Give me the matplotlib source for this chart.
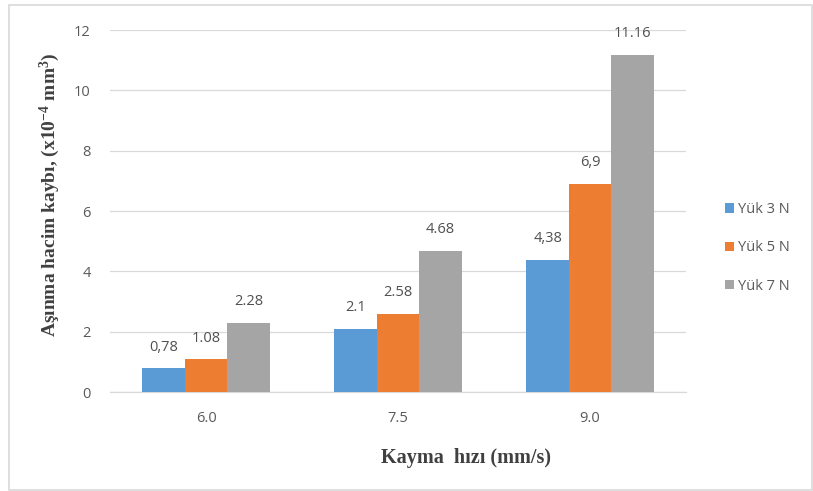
import numpy as np
import matplotlib
matplotlib.use("Agg")
import matplotlib.pyplot as plt
from matplotlib.patches import Rectangle

plt.rcParams['font.family'] = ['Open Sans', 'DejaVu Sans']
plt.rcParams['mathtext.fontset'] = 'custom'
plt.rcParams['mathtext.rm'] = 'Liberation Serif:bold'
plt.rcParams['mathtext.it'] = 'Liberation Serif:bold'

# data
speeds = ["6.0", "7.5", "9.0"]
series = ["Yük 3 N", "Yük 5 N", "Yük 7 N"]
yuk3 = [0.78, 2.1, 4.38]
yuk5 = [1.08, 2.58, 6.9]
yuk7 = [2.28, 4.68, 11.16]
labels3 = ["0,78", "2.1", "4,38"]
labels5 = ["1.08", "2.58", "6,9"]
labels7 = ["2.28", "4.68", "11.16"]
colors = ["#5B9BD5", "#ED7D31", "#A5A5A5"]
yticks = [0, 2, 4, 6, 8, 10, 12]

fig = plt.figure(figsize=(8.13, 4.91), dpi=100)
ax = fig.add_axes([0.1353, 0.2016, 0.7085, 0.7373])

x = np.arange(len(speeds))
w = 0.221
values = [yuk3, yuk5, yuk7]
texts = [labels3, labels5, labels7]
for i in range(3):
    bars = ax.bar(x + (i - 1) * w, values[i], w, color=colors[i], label=series[i], zorder=3)
    for b, t in zip(bars, texts[i]):
        ax.annotate(t, (b.get_x() + b.get_width() / 2, b.get_height()),
                    xytext=(0, 10), textcoords='offset points',
                    ha='center', va='bottom', fontsize=10.5, color='#505050')

ax.set_xlim(-0.5, 2.5)
ax.set_ylim(0, 12)
ax.set_yticks(yticks)
ax.set_xticks(x)
ax.set_xticklabels(speeds)
ax.tick_params(length=0, labelsize=10.5, colors='#595959', pad=14)
ax.grid(axis='y', color='#D9D9D9', linewidth=0.9, zorder=0)
for s in ['top', 'right', 'left']:
    ax.spines[s].set_visible(False)
ax.spines['bottom'].set_color('#D9D9D9')
ax.spines['bottom'].set_linewidth(0.9)

fig.text(50 / 813, 1 - 195 / 491, "Aşınma hacim kaybı, (x10$^{-4}$ mm$^{3}$)",
         rotation=90, ha='center', va='center', family='Liberation Serif',
         fontweight='bold', fontsize=14, color='#404040')
fig.text(466 / 813, 1 - 458 / 491, "Kayma  hızı (mm/s)",
         ha='center', va='center', family='Liberation Serif',
         fontweight='bold', fontsize=14.5, color='#404040')

leg = ax.legend(loc='center left', bbox_to_anchor=(718 / 813, 1 - 248 / 491),
                bbox_transform=fig.transFigure, frameon=False, fontsize=10.5,
                handlelength=0.6, handleheight=0.6, handletextpad=0.3,
                labelspacing=1.6, borderpad=0)
for t in leg.get_texts():
    t.set_color('#595959')

fig.patches.append(Rectangle((8.5 / 813, 1 / 491), 803 / 813, 485.5 / 491,
                             transform=fig.transFigure, fill=False,
                             edgecolor='#D9D9D9', linewidth=1.2))

fig.savefig("out.png", dpi=100)
